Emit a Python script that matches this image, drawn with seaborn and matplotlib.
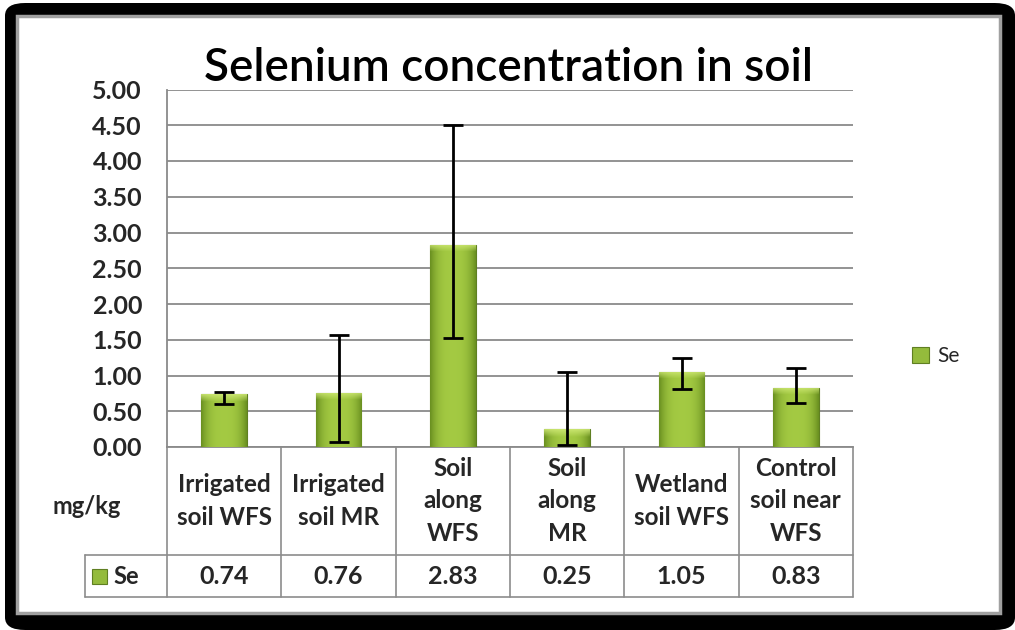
import numpy as np
import pandas as pd
import matplotlib
matplotlib.use('Agg')
import matplotlib.pyplot as plt
import matplotlib.transforms as mtransforms
from matplotlib.patches import FancyBboxPatch, Rectangle
from matplotlib.lines import Line2D
import seaborn as sns

# values (mg/kg)
categories = ['Irrigated\nsoil WFS', 'Irrigated\nsoil MR', 'Soil\nalong\nWFS',
              'Soil\nalong\nMR', 'Wetland\nsoil WFS', 'Control\nsoil near\nWFS']
se_values = [0.74, 0.76, 2.83, 0.25, 1.05, 0.83]
err_low = [0.60, 0.07, 1.52, 0.03, 0.81, 0.61]
err_high = [0.77, 1.56, 4.50, 1.05, 1.24, 1.10]
y_ticks = [0.00, 0.50, 1.00, 1.50, 2.00, 2.50, 3.00, 3.50, 4.00, 4.50, 5.00]
series_name = 'Se'
unit_label = 'mg/kg'
title = 'Selenium concentration in soil'


def main():
    sns.set_style('white')
    plt.rcParams['font.family'] = ['Lato', 'DejaVu Sans']

    W, H = 1015, 630
    fig = plt.figure(figsize=(W / 100, H / 100), dpi=100)
    fig.patch.set_facecolor('white')

    # black picture frame and the white chart panel inside it
    fig.add_artist(FancyBboxPatch((5 / W, 0), 1010 / W, 627 / H,
                                  boxstyle='round,pad=0,rounding_size=0.02',
                                  transform=fig.transFigure, fc='black', ec='none', zorder=-3))
    fig.add_artist(Rectangle((17 / W, 17 / H), 983 / W, 597 / H, transform=fig.transFigure,
                             fc='white', ec='#a0a0a0', lw=2.5, zorder=-2))

    # plot area
    left, right, top, bottom = 167, 853, 89.5, 447
    ax = fig.add_axes([left / W, 1 - bottom / H, (right - left) / W, (bottom - top) / H])
    ax.set_facecolor('white')
    ax_h = bottom - top
    ax_w = right - left

    df = pd.DataFrame({'site': categories, 'mgkg': se_values})
    sns.barplot(data=df, x='site', y='mgkg', color='#94bb3c', saturation=1, width=0.4,
                edgecolor='#5f7f22', linewidth=0.8, ax=ax, zorder=3)

    # bevel-ish gradient on each bar
    for patch in list(ax.patches):
        x0, y0 = patch.get_x(), patch.get_y()
        w, h = patch.get_width(), patch.get_height()
        nrows = max(int(h / 5 * ax_h), 3)
        t = np.linspace(0, 1, 40)
        edge = np.abs(2 * t - 1) ** 3
        center = np.array([0.64, 0.79, 0.26])
        dark = np.array([0.42, 0.57, 0.13])
        row = center[None, :] * (1 - edge[:, None]) + dark[None, :] * edge[:, None]
        img = np.repeat(row[None, :, :], nrows, axis=0)
        light = np.array([0.82, 0.92, 0.47])
        bev = min(7, nrows - 1)
        for r in range(bev):
            f = 0.8 * (1 - r / bev)
            img[r] = img[r] * (1 - f) + light * f
        im = ax.imshow(img, extent=[x0, x0 + w, y0, y0 + h], aspect='auto', zorder=3,
                       interpolation='bilinear')
        im.set_clip_path(patch)

    lower = [v - lo for v, lo in zip(se_values, err_low)]
    upper = [hi - v for v, hi in zip(se_values, err_high)]
    ax.errorbar(x=list(range(len(categories))), y=se_values, yerr=[lower, upper], fmt='none',
                ecolor='black', elinewidth=2, capsize=7, capthick=2, zorder=5)

    ax.set_xlim(-0.5, len(categories) - 0.5)
    ax.set_ylim(0, 5)
    ax.set_yticks(y_ticks)
    ax.set_yticklabels([f'{t:.2f}' for t in y_ticks], fontsize=18, fontweight='bold')
    ax.set_xticks([])
    ax.set_xlabel('')
    ax.set_ylabel('')
    ax.yaxis.grid(True, color='#8a8a8a', lw=1.3)
    ax.set_axisbelow(True)
    for s in ['top', 'right']:
        ax.spines[s].set_visible(False)
    for s in ['left', 'bottom']:
        ax.spines[s].set_color('#8a8a8a')
        ax.spines[s].set_linewidth(1.3)
    ax.tick_params(axis='y', length=7, color='#8a8a8a', width=1.2, pad=11)

    # title
    fig.text(509 / W, 1 - 68 / H, title, ha='center', va='center', fontsize=33,
             fontweight='semibold', color='black')

    # data table under the axis
    grid_c = '#8c8c8c'
    row1 = -(555 - bottom) / ax_h
    row2 = -(597 - bottom) / ax_h
    key_left = -(left - 85) / ax_w
    trans = mtransforms.blended_transform_factory(ax.transData, ax.transAxes)
    for i in range(len(categories) + 1):
        ax.add_line(Line2D([i - 0.5, i - 0.5], [row2, 0], transform=trans, color=grid_c,
                           lw=1.2, clip_on=False))
    for yy in [row1, row2]:
        ax.add_line(Line2D([key_left, 1], [yy, yy], transform=ax.transAxes, color=grid_c,
                           lw=1.2, clip_on=False))
    ax.add_line(Line2D([key_left, key_left], [row2, row1], transform=ax.transAxes,
                       color=grid_c, lw=1.2, clip_on=False))

    for i, (cat, v) in enumerate(zip(categories, se_values)):
        ax.text(i, (0 + row1) / 2, cat, transform=trans, ha='center', va='center',
                fontsize=17.5, fontweight='bold', linespacing=1.5, clip_on=False)
        ax.text(i, (row1 + row2) / 2, f'{v:.2f}', transform=trans, ha='center', va='center',
                fontsize=18, fontweight='bold', clip_on=False)

    ax.text(-(left - 87) / ax_w, -(507 - bottom) / ax_h, unit_label, transform=ax.transAxes,
            ha='center', va='center', fontsize=17, fontweight='bold', clip_on=False)
    ax.add_patch(Rectangle((-(left - 92) / ax_w, (row1 + row2) / 2 - 7.5 / ax_h), 15 / ax_w,
                           15 / ax_h, transform=ax.transAxes, fc='#94bb3c', ec='#5f7f22',
                           lw=0.8, clip_on=False))
    ax.text(-(left - 113) / ax_w, (row1 + row2) / 2, series_name, transform=ax.transAxes,
            ha='left', va='center', fontsize=17, fontweight='bold', clip_on=False)

    # legend on the right
    handle = Rectangle((0, 0), 1, 1, fc='#94bb3c', ec='#5f7f22', lw=0.8)
    ax.legend([handle], [series_name], loc='center left',
              bbox_to_anchor=((912 - left) / ax_w, (bottom - 356) / ax_h),
              frameon=False, fontsize=15, handlelength=0.8, handleheight=0.8,
              handletextpad=0.4, borderpad=0, borderaxespad=0)

    plt.savefig('out.png', dpi=100)


if __name__ == '__main__':
    main()
